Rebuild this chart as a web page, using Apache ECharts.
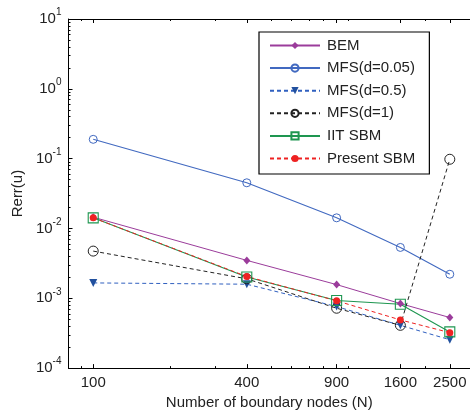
<!DOCTYPE html>
<html>
<head>
<meta charset="utf-8">
<script src="https://cdn.jsdelivr.net/npm/echarts@6/dist/echarts.min.js"></script>
<style>
html,body{margin:0;padding:0;background:#fff;}
#c{width:470px;height:415px;}
</style>
</head>
<body>
<div id="c"></div>
<script>
// ---- data ----
const nodes = [100, 400, 900, 1600, 2500];
const bem     = [0.0145, 0.00349, 0.00157, 0.00084, 0.00053];
const mfs005  = [0.189, 0.0451, 0.0142, 0.00535, 0.00221];
const mfs05   = [0.00166, 0.00159, 0.00076, 0.00041, 0.000255];
const mfs1    = [0.00474, 0.0019, 0.00072, 0.00041, 0.098];
const iit     = [0.0142, 0.00202, 0.00093, 0.00082, 0.00033];
const present = [0.0142, 0.00205, 0.00092, 0.00049, 0.000322];
const seriesNames = ['BEM', 'MFS(d=0.05)', 'MFS(d=0.5)', 'MFS(d=1)', 'IIT SBM', 'Present SBM'];
const xTickLabels = [100, 400, 900, 1600, 2500];
const xMinorTicks = [90, 200, 300, 500, 600, 700, 800, 1000, 2000, 3000];
const yTickLabels = [1e-4, 1e-3, 1e-2, 1e-1, 1, 10];
const yMinorTicks = [];
[1e-4, 1e-3, 1e-2, 1e-1, 1].forEach(function (d) {
  for (let k = 2; k <= 9; k++) yMinorTicks.push(+(d * k).toPrecision(3));
});

const FONT = 'Liberation Sans, Arial, Helvetica, sans-serif';
const TXT = '#222';
const pairs = arr => nodes.map((n, i) => [n, arr[i]]);

const grid = { left: 68.5, top: 19, width: 403, height: 351 };
const xBase = { type: 'log', logBase: 10, min: 80, max: 3000, gridIndex: 0, splitLine: { show: false } };
const yBase = { type: 'log', logBase: 10, min: 1e-4, max: 10, gridIndex: 0, splitLine: { show: false } };

function mk(base, extra) { return Object.assign({}, base, extra); }

const chart = echarts.init(document.getElementById('c'), null, { renderer: 'canvas' });
chart.setOption({
  animation: false,
  backgroundColor: '#fff',
  textStyle: { fontFamily: FONT },
  grid: grid,
  xAxis: [
    mk(xBase, {
      position: 'bottom',
      axisLine: { show: true, lineStyle: { color: '#000', width: 1 } },
      axisTick: { show: true, inside: true, length: 4, customValues: xTickLabels, lineStyle: { color: '#000' } },
      axisLabel: {
        show: true, customValues: xTickLabels, fontSize: 15, color: TXT, margin: 7, fontFamily: FONT,
        formatter: function (v) { return String(Math.round(v)); }
      },
      name: 'Number of boundary nodes (N)', nameLocation: 'middle', nameGap: 26,
      nameTextStyle: { fontSize: 15, color: TXT, fontFamily: FONT }
    }),
    mk(xBase, {
      position: 'bottom',
      axisLine: { show: false },
      axisTick: { show: true, inside: true, length: 2, customValues: xMinorTicks, lineStyle: { color: '#000' } },
      axisLabel: { show: false }
    }),
    mk(xBase, {
      position: 'top',
      axisLine: { show: true, lineStyle: { color: '#000', width: 1 } },
      axisTick: { show: true, inside: true, length: 4, customValues: xTickLabels, lineStyle: { color: '#000' } },
      axisLabel: { show: false }
    }),
    mk(xBase, {
      position: 'top',
      axisLine: { show: false },
      axisTick: { show: true, inside: true, length: 2, customValues: xMinorTicks, lineStyle: { color: '#000' } },
      axisLabel: { show: false }
    })
  ],
  yAxis: [
    mk(yBase, {
      position: 'left',
      axisLine: { show: true, lineStyle: { color: '#000', width: 1 } },
      axisTick: { show: true, inside: true, length: 4, customValues: yTickLabels, lineStyle: { color: '#000' } },
      axisLabel: {
        show: true, customValues: yTickLabels, margin: 7, fontFamily: FONT,
        formatter: function (v) {
          const e = Math.round(Math.log10(v));
          return '{b|10}{e|' + e + '}';
        },
        rich: {
          b: { fontSize: 15, color: TXT, fontFamily: FONT, verticalAlign: 'middle' },
          e: { fontSize: 10, color: TXT, fontFamily: FONT, verticalAlign: 'middle', padding: [0, 0, 13, 0] }
        }
      },
      name: 'Rerr(u)', nameLocation: 'middle', nameGap: 40, nameRotate: 90,
      nameTextStyle: { fontSize: 15, color: TXT, fontFamily: FONT }
    }),
    mk(yBase, {
      position: 'left',
      axisLine: { show: false },
      axisTick: { show: true, inside: true, length: 2, customValues: yMinorTicks, lineStyle: { color: '#000' } },
      axisLabel: { show: false }
    })
  ],
  legend: {
    orient: 'vertical',
    left: 259, top: 32,
    padding: [6, 14, 8, 10],
    borderColor: '#000', borderWidth: 1.2,
    backgroundColor: '#fff',
    itemWidth: 50, itemHeight: 9, itemGap: 7.6,
    textStyle: { fontSize: 15, color: TXT, fontFamily: FONT, lineHeight: 14, padding: [0, 0, 0, 2] },
    data: seriesNames
  },
  series: [
    {
      name: seriesNames[0], type: 'line', data: pairs(bem),
      symbol: 'diamond', symbolSize: [7, 8],
      lineStyle: { color: '#9B3C9B', width: 1 },
      itemStyle: { color: '#9B3C9B' }
    },
    {
      name: seriesNames[1], type: 'line', data: pairs(mfs005),
      symbol: 'circle', symbolSize: 8,
      lineStyle: { color: '#4169C0', width: 1.1 },
      itemStyle: { color: 'rgba(255,255,255,0)', borderColor: '#4169C0', borderWidth: 1 }
    },
    {
      name: seriesNames[2], type: 'line', data: pairs(mfs05),
      symbol: 'triangle', symbolRotate: 180, symbolSize: 8,
      lineStyle: { color: '#3060C0', width: 1, type: [4, 3] },
      itemStyle: { color: '#21509E' }
    },
    {
      name: seriesNames[3], type: 'line', data: pairs(mfs1),
      symbol: 'circle', symbolSize: 10,
      lineStyle: { color: '#222', width: 1, type: [4, 3] },
      itemStyle: { color: 'rgba(255,255,255,0)', borderColor: '#222', borderWidth: 1 }
    },
    {
      name: seriesNames[4], type: 'line', data: pairs(iit),
      symbol: 'rect', symbolSize: 10,
      lineStyle: { color: '#1E9650', width: 1.1 },
      itemStyle: { color: 'rgba(255,255,255,0)', borderColor: '#1E9650', borderWidth: 1.1 }
    },
    {
      name: seriesNames[5], type: 'line', data: pairs(present),
      symbol: 'circle', symbolSize: 7,
      lineStyle: { color: '#EE2222', width: 1, type: [4, 3] },
      itemStyle: { color: '#EE2222' }
    }
  ]
});
</script>
</body>
</html>
